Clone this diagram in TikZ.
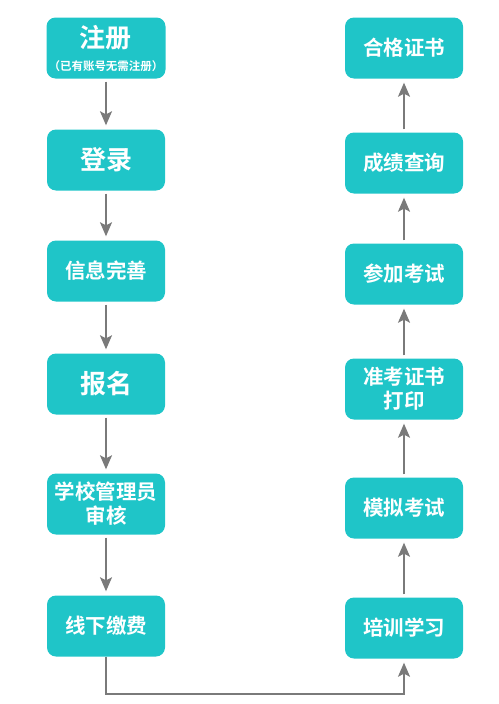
\documentclass[tikz,border=0pt]{standalone}
\usepackage{fontspec}
\newfontfamily\cjk{Noto Sans CJK SC Bold}
\usepackage{tikz}
\usetikzlibrary{arrows.meta,positioning}
\definecolor{stepteal}{HTML}{1FC5C8}
\definecolor{arrgray}{HTML}{7A7A7A}
\tikzset{
	stepbox/.style={rectangle, fill=stepteal, rounded corners=9pt, text=white,
		minimum width=118pt, minimum height=61pt, align=center, font=\cjk\fontsize{20.5}{24}\selectfont, inner sep=2pt},
	bigbox/.style={stepbox, font=\cjk\fontsize{26}{28}\selectfont},
	steparr/.style={-{Stealth[length=14pt,width=12pt,inset=3pt]}, draw=arrgray, line width=1.5pt, shorten <=3pt, shorten >=4pt}
}
\begin{document}
\begin{tikzpicture}[x=1pt,y=-1pt]
			\useasboundingbox (0,0) rectangle (498,704);
			% left column
			\node[stepbox] (reg) at (106,48) {{\fontsize{26}{27}\selectfont 注册}\\[-1pt]{\fontsize{11.5}{12}\selectfont （已有账号无需注册）}};
			\node[bigbox] (login) at (106,160) {登录};
			\node[stepbox] (info) at (106,271) {信息完善};
			\node[bigbox] (apply) at (106,384) {报名};
			\node[stepbox] (check) at (106,504) {学校管理员\\审核};
			\node[stepbox] (fee) at (106,626) {线下缴费};
			% right column
			\node[stepbox] (train) at (404,628) {培训学习};
			\node[stepbox] (mock) at (404,508) {模拟考试};
			\node[stepbox] (ticket) at (404,389) {准考证书\\打印};
			\node[stepbox] (exam) at (404,274) {参加考试};
			\node[stepbox] (score) at (404,163) {成绩查询};
			\node[stepbox] (cert) at (404,48) {合格证书};
			\coordinate (turn) at (106,694);
			\draw[steparr] (reg)--(login);
			\draw[steparr] (login)--(info);
			\draw[steparr] (info)--(apply);
			\draw[steparr] (apply)--(check);
			\draw[steparr] (check)--(fee);
			\draw[steparr, shorten <=0pt] (fee.south)--(turn)-|(train.south);
			\draw[steparr] (train)--(mock);
			\draw[steparr] (mock)--(ticket);
			\draw[steparr] (ticket)--(exam);
			\draw[steparr] (exam)--(score);
			\draw[steparr] (score)--(cert);
		\end{tikzpicture}
\end{document}
